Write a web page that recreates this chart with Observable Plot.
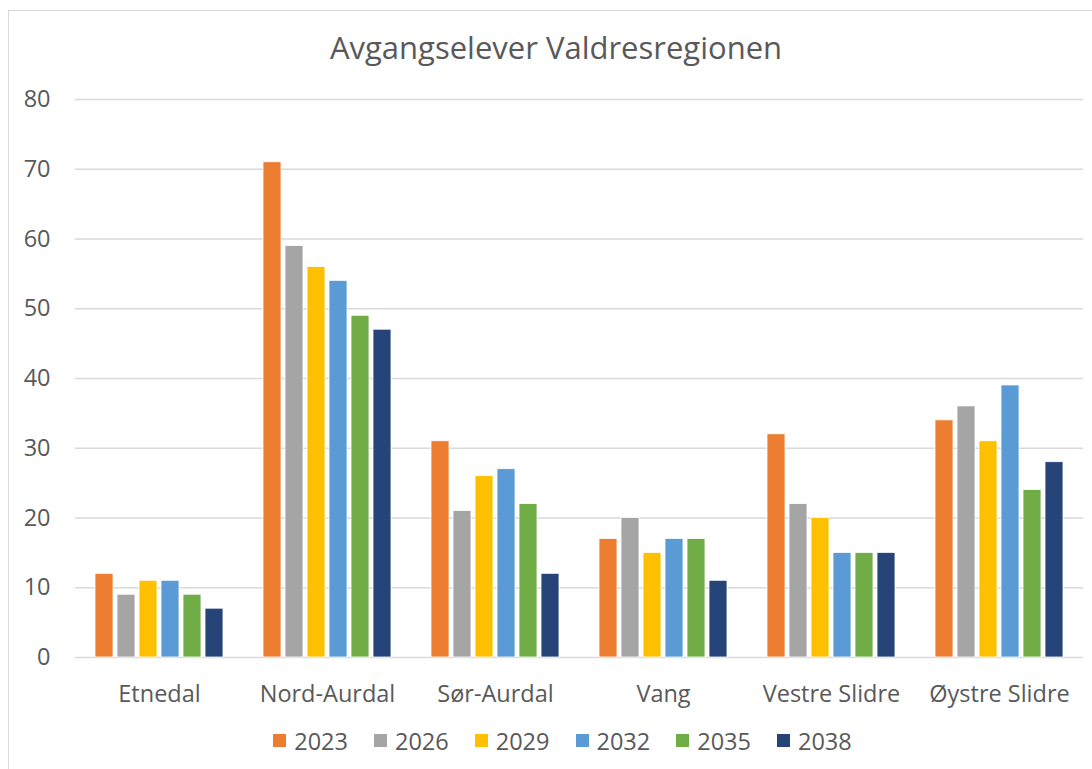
<!DOCTYPE html>
<html>
<head>
<meta charset="utf-8">
<script src="https://cdn.jsdelivr.net/npm/d3@7"></script>
<script src="https://cdn.jsdelivr.net/npm/@observablehq/plot@0.6"></script>
<style>
  html, body { margin: 0; padding: 0; background: #fff; overflow: hidden; }
  body { width: 1092px; height: 769px; position: relative; font-family: "Open Sans", sans-serif; color: #595959; }
  #frame { position: absolute; left: 8px; top: 10px; width: 1200px; height: 1000px; border: 1px solid #d9d9d9; box-sizing: border-box; }
  #title { position: absolute; left: 0; top: 32px; width: 1112px; text-align: center; font-size: 31px; line-height: 1; color: #595959; }
  #chart { position: absolute; left: 0; top: 0; }
  #legend { position: absolute; left: 16px; top: 730px; width: 1092px; display: flex; justify-content: center; font-size: 23.5px; line-height: 1; }
  .item { display: flex; align-items: center; margin: 0 12.5px; }
  .sw { width: 15px; height: 15px; margin-right: 7px; margin-top: -3px; box-sizing: border-box; border: 0.8px solid #fff; }
</style>
</head>
<body>
<div id="frame"></div>
<div id="title">Avgangselever Valdresregionen</div>
<div id="chart"></div>
<div id="legend"></div>
<script>
const categories = ["Etnedal", "Nord-Aurdal", "Sør-Aurdal", "Vang", "Vestre Slidre", "Øystre Slidre"];
const years = ["2023", "2026", "2029", "2032", "2035", "2038"];
const v2023 = [12, 71, 31, 17, 32, 34];
const v2026 = [9, 59, 21, 20, 22, 36];
const v2029 = [11, 56, 26, 15, 20, 31];
const v2032 = [11, 54, 27, 17, 15, 39];
const v2035 = [9, 49, 22, 17, 15, 24];
const v2038 = [7, 47, 12, 11, 15, 28];
const yTicks = [0, 10, 20, 30, 40, 50, 60, 70, 80];
const colors = ["#ED7D31", "#A5A5A5", "#FFC000", "#5B9BD5", "#70AD47", "#264478"];

const series = [v2023, v2026, v2029, v2032, v2035, v2038];
const data = [];
categories.forEach((c, i) => {
  years.forEach((yr, j) => data.push({cat: c, year: yr, value: series[j][i]}));
});

const chart = Plot.plot({
  width: 1092,
  height: 769,
  marginTop: 99,
  marginBottom: 112,
  marginLeft: 75,
  marginRight: 9,
  style: {fontFamily: "Open Sans", fontSize: "23.5px", color: "#595959", background: "transparent", overflow: "visible"},
  fx: {domain: categories, paddingInner: 0, paddingOuter: 0, label: null, tickSize: 0, tickPadding: 28},
  x: {domain: years, paddingInner: 0.2, paddingOuter: 0.906, axis: null},
  y: {domain: [0, 80], ticks: yTicks, label: null, tickSize: 0, tickPadding: 25, tickFormat: d => String(d)},
  color: {domain: years, range: colors},
  marks: [
    Plot.ruleY(yTicks, {stroke: "#d9d9d9", strokeWidth: 1.4}),
    Plot.barY(data, {fx: "cat", x: "year", y: "value", fill: "year", stroke: "#ffffff", strokeWidth: 0.8})
  ]
});
document.getElementById("chart").appendChild(chart);

const legend = document.getElementById("legend");
years.forEach((yr, j) => {
  const it = document.createElement("div");
  it.className = "item";
  const sw = document.createElement("div");
  sw.className = "sw";
  sw.style.background = colors[j];
  const t = document.createElement("span");
  t.textContent = yr;
  it.appendChild(sw);
  it.appendChild(t);
  legend.appendChild(it);
});
</script>
</body>
</html>
